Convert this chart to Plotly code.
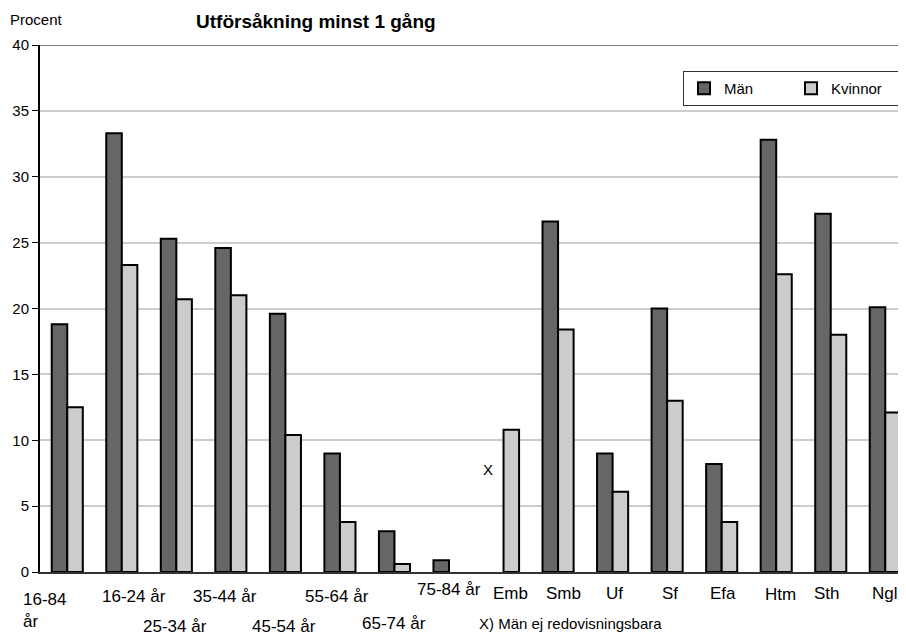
import plotly.graph_objects as go

categories = ["16-84 år", "16-24 år", "25-34 år", "35-44 år", "45-54 år", "55-64 år",
              "65-74 år", "75-84 år", "Emb", "Smb", "Uf", "Sf", "Efa", "Htm", "Sth", "Ngl"]
tick_labels = ["16-84<br>år", "16-24 år", "25-34 år", "35-44 år", "45-54 år", "55-64 år",
               "65-74 år", "75-84 år", "Emb", "Smb", "Uf", "Sf", "Efa", "Htm", "Sth", "Ngl"]
man = [18.8, 33.3, 25.3, 24.6, 19.6, 9.0, 3.1, 0.9, None, 26.6, 9.0, 20.0, 8.2, 32.8, 27.2, 20.1]
kvinnor = [12.5, 23.3, 20.7, 21.0, 10.4, 3.8, 0.6, None, 10.8, 18.4, 6.1, 13.0, 3.8, 22.6, 18.0, 12.1]
y_ticks = [0, 5, 10, 15, 20, 25, 30, 35, 40]

# label placement (pixel offsets) for the staggered category labels
label_xshift = [-46, 12, -1, -6, -1, -3, 0, 0, 7, 5, 2, 3, 1, 4, -4, 0]
label_yshift = [-38, -24, -54, -24, -54, -24, -51, -17, -21, -21, -21, -21, -21, -22, -21, -21]
label_anchor = ["left"] + ["center"] * 15

FONT = "Arial, Liberation Sans, sans-serif"
x_idx = list(range(len(categories)))

# page body has an 8px margin: figure is offset by (8, 8) in the window
OFF = 8
PL, PT, PB = 40 - OFF, 45 - OFF, 63
PW = 866

fig = go.Figure()
fig.add_trace(go.Bar(x=x_idx, y=man, name="Män",
                     marker=dict(color="#666666", line=dict(color="black", width=2))))
fig.add_trace(go.Bar(x=x_idx, y=kvinnor, name="Kvinnor",
                     marker=dict(color="#cccccc", line=dict(color="black", width=2))))

for i, lab in enumerate(tick_labels):
    fig.add_annotation(x=i, y=0, xref="x", yref="paper", text=lab, showarrow=False,
                       xanchor=label_anchor[i], yanchor="middle", align="left",
                       xshift=label_xshift[i], yshift=label_yshift[i],
                       font=dict(family=FONT, size=17, color="black"))

fig.add_annotation(x=8, y=7.8, xref="x", yref="y", text="X", showarrow=False,
                   xshift=-16, font=dict(family=FONT, size=15, color="black"))
fig.add_annotation(x=(477 - 40) / PW, y=-(623 - 572) / 527, xref="paper", yref="paper",
                   text="X) Män ej redovisningsbara", showarrow=False,
                   xanchor="left", yanchor="middle",
                   font=dict(family=FONT, size=15, color="black"))
fig.add_annotation(x=-(40 - 8) / PW, y=1 + (45 - 19) / 527, xref="paper", yref="paper",
                   text="Procent", showarrow=False, xanchor="left", yanchor="middle",
                   font=dict(family=FONT, size=15, color="black"))
fig.add_annotation(x=(194 - 40) / PW, y=1 + (45 - 22) / 527, xref="paper", yref="paper",
                   text="<b>Utförsåkning minst 1 gång</b>", showarrow=False,
                   xanchor="left", yanchor="middle",
                   font=dict(family=FONT, size=19, color="black"))

fig.add_shape(type="line", xref="paper", yref="y", x0=0, x1=1, y0=40, y1=40,
              line=dict(color="#808080", width=2))

fig.update_layout(
    width=906 - OFF, height=635 - OFF,
    margin=dict(l=PL, r=0, t=PT, b=PB, autoexpand=False),
    paper_bgcolor="white", plot_bgcolor="white",
    barmode="group", bargap=0.43, bargroupgap=0,
    font=dict(family=FONT, size=15, color="black"),
    showlegend=True,
    legend=dict(orientation="h", x=(683 - 40) / PW, y=(572 - 71) / 527,
                xanchor="left", yanchor="top",
                bordercolor="#333333", borderwidth=1, bgcolor="white",
                font=dict(family=FONT, size=15, color="black"),
                entrywidth=62, entrywidthmode="pixels"),
    xaxis=dict(range=[-0.5, 15.38], showticklabels=False, showgrid=False, ticks="",
               showline=True, linecolor="#333333", linewidth=2, zeroline=False,
               automargin=False),
    yaxis=dict(range=[0, 40], tickvals=y_ticks, showgrid=True, gridcolor="#cccccc",
               gridwidth=2, ticks="outside", ticklen=6, tickcolor="black",
               showline=True, linecolor="black", linewidth=2, zeroline=False,
               automargin=False,
               tickfont=dict(family=FONT, size=15, color="black")),
)

fig.write_html("out.html")
